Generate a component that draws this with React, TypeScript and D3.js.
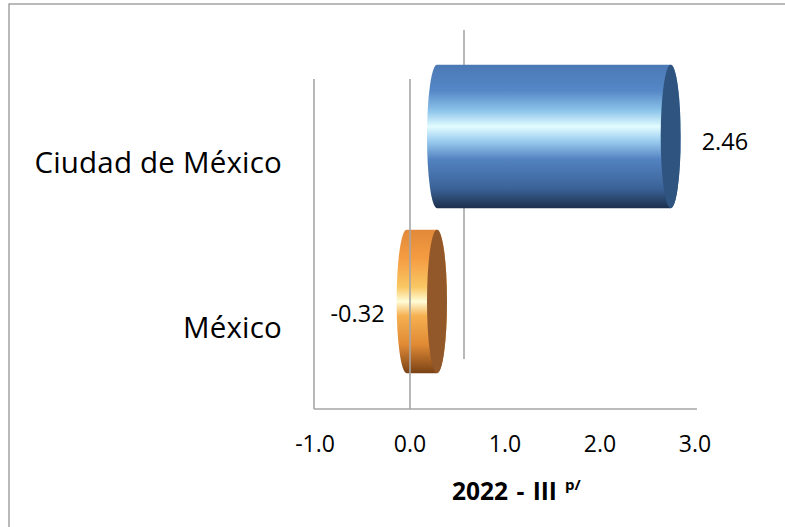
import React from "react";
import * as d3 from "d3";

const categories = ["Ciudad de México", "México"];
const values = [2.46, -0.32];
const valueLabels = ["2.46", "-0.32"];
const ticks = [-1, 0, 1, 2, 3];
const axisTitle = "2022 - III";
const axisTitleSup = "p/";

const W = 785;
const H = 527;

export default function App() {
  const x = d3.scaleLinear().domain([-1, 3]).range([315, 695]);
  const y = d3.scalePoint<string>().domain(categories).range([79, 409]).padding(0.5);
  const step = y.step();
  const barH = step * 0.87;
  const dx = 27;
  const dy = -25;
  const rx = 10;
  const top = 79;
  const bottom = 409;
  const left = 314;
  const right = 697;
  const font = "'Open Sans', 'DejaVu Sans', sans-serif";
  const grads = ["gBlue", "gOrange"];
  const caps = ["#2f5480", "#93582a"];
  const fmt = (t: number) => t.toFixed(1);

  return (
    <svg
      width={W}
      height={H}
      style={{ position: "absolute", left: 0, top: 0, background: "#fff" }}
      fontFamily={font}
    >
      <defs>
        <linearGradient id="gBlue" x1="0" y1="0" x2="0" y2="1">
          <stop offset="0" stopColor="#4b79b5" />
          <stop offset="0.18" stopColor="#5587c6" />
          <stop offset="0.32" stopColor="#8cc4ea" />
          <stop offset="0.43" stopColor="#e2fcff" />
          <stop offset="0.53" stopColor="#9ccdf0" />
          <stop offset="0.66" stopColor="#5282c0" />
          <stop offset="0.86" stopColor="#3b6398" />
          <stop offset="1" stopColor="#1c2f4c" />
        </linearGradient>
        <linearGradient id="gOrange" x1="0" y1="0" x2="0" y2="1">
          <stop offset="0" stopColor="#e2893a" />
          <stop offset="0.2" stopColor="#f59c42" />
          <stop offset="0.4" stopColor="#f9c864" />
          <stop offset="0.5" stopColor="#fffcd6" />
          <stop offset="0.6" stopColor="#f6b050" />
          <stop offset="0.8" stopColor="#e08a35" />
          <stop offset="1" stopColor="#7a4216" />
        </linearGradient>
      </defs>

      {/* chart border */}
      <rect x={9} y={4} width={W} height={H} fill="none" stroke="#8c8c8c" strokeWidth={1.2} />

      {/* back wall zero line */}
      <line x1={x(0) + 2 * dx} x2={x(0) + 2 * dx} y1={top + 2 * dy + 1} y2={bottom + 2 * dy} stroke="#a6a6a6" strokeWidth={1.6} />

      {/* bars */}
      {categories.map((c, i) => {
        const v = values[i];
        const x0 = Math.min(x(0), x(v)) + dx;
        const x1 = Math.max(x(0), x(v)) + dx;
        const cy = (y(c) as number) + dy;
        const y0 = cy - barH / 2;
        const y1 = cy + barH / 2;
        const ry = barH / 2;
        const path = `M${x0},${y0} L${x1},${y0} A${rx},${ry} 0 0 1 ${x1},${y1} L${x0},${y1} A${rx},${ry} 0 0 1 ${x0},${y0} Z`;
        return (
          <g key={c}>
            <path d={path} fill={`url(#${grads[i]})`} />
            <ellipse cx={x1} cy={cy} rx={rx} ry={ry} fill={caps[i]} />
          </g>
        );
      })}

      {/* front axes lines */}
      <line x1={left} x2={left} y1={top} y2={bottom} stroke="#a6a6a6" strokeWidth={1.6} />
      <line x1={x(0)} x2={x(0)} y1={top} y2={bottom} stroke="#a6a6a6" strokeWidth={1.6} />
      <line x1={left} x2={right} y1={bottom} y2={bottom} stroke="#a6a6a6" strokeWidth={1.6} />

      {/* data labels */}
      {categories.map((c, i) => {
        const v = values[i];
        const cy = (y(c) as number) + dy;
        const pos = v >= 0;
        const xe = x(v) + dx + (pos ? rx + 21 : -rx - 12);
        return (
          <text
            key={"l" + c}
            x={xe}
            y={cy + (pos ? 13 : 20)}
            textAnchor={pos ? "start" : "end"}
            fontSize={23.5}
            fill="#000"
          >
            {valueLabels[i]}
          </text>
        );
      })}

      {/* category labels */}
      {categories.map((c) => (
        <text key={"c" + c} x={282} y={(y(c) as number) + 11} textAnchor="end" fontSize={29.5} letterSpacing={0.2} fill="#000">
          {c}
        </text>
      ))}

      {/* tick labels */}
      {ticks.map((t) => (
        <text key={"t" + t} x={x(t)} y={452} textAnchor="middle" fontSize={23} fill="#000">
          {fmt(t)}
        </text>
      ))}

      {/* axis title */}
      <text x={452} y={500} textAnchor="start" fontSize={24.5} fontWeight="bold" wordSpacing={2} fill="#000">
        {axisTitle}
        <tspan fontSize={15} dx={8} dy={-10}>
          {axisTitleSup}
        </tspan>
      </text>
    </svg>
  );
}
